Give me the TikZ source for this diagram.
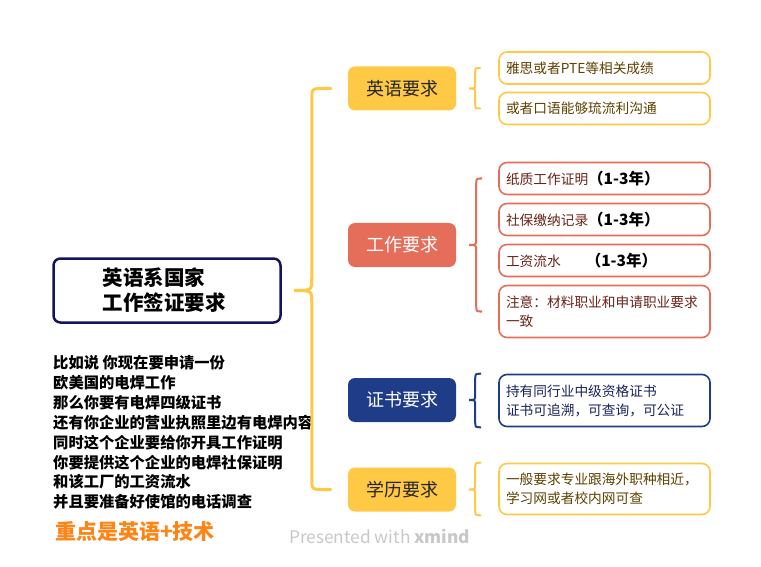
\documentclass[tikz,border=0pt]{standalone}
\usepackage{fontspec}
\setmainfont{Noto Sans CJK SC}
\usepackage{tikz}
\usetikzlibrary{positioning,calc}
\definecolor{sun}{RGB}{255,200,69}
\definecolor{coral}{RGB}{229,110,90}
\definecolor{royal}{RGB}{31,60,136}
\definecolor{ink}{RGB}{20,20,90}
\definecolor{sunink}{RGB}{95,65,0}
\definecolor{coralink}{RGB}{105,35,25}
\definecolor{royalink}{RGB}{25,35,90}
\definecolor{tangerine}{RGB}{255,132,22}
\definecolor{footgray}{RGB}{200,200,200}
\tikzset{
  rootbox/.style={draw=ink,line width=2.5pt,rounded corners=7pt,text width=129pt,inner xsep=49pt,minimum height=64pt,align=left,font=\fontsize{20.5}{25}\selectfont\bfseries},
  topic/.style={rounded corners=7pt,minimum width=108pt,minimum height=44pt,inner sep=0pt,font=\fontsize{18}{22}\selectfont},
  topicsun/.style={topic,fill=sun,text=black!85},
  topiccoral/.style={topic,fill=coral,text=white},
  topicroyal/.style={topic,fill=royal,text=white},
  leaf/.style={draw,line width=1.6pt,rounded corners=8pt,fill=white,text width=197pt,inner xsep=7pt,inner ysep=0pt,align=left,font=\fontsize{13.7}{19}\selectfont},
  leafsun/.style={leaf,draw=sun,text=sunink},
  leafcoral/.style={leaf,draw=coral,text=coralink},
  leafroyal/.style={leaf,draw=royal,text=royalink},
  bracket/.style={line width=2pt,line cap=round},
}
\newcommand{\yrs}{\textcolor{black}{\fontsize{15.5}{19}\selectfont\bfseries（1-3年）}}
% brace: style, top end, cusp, bottom end, offset of the spine, radius
\newcommand{\curly}[6]{%
  \draw[#1] let \p1=(#2), \p2=(#3), \p3=(#4) in
    (\p1) -- ({\x2+#5+#6},{\y1})
    .. controls ({\x2+#5},{\y1}) .. ({\x2+#5},{\y1-#6})
    -- ({\x2+#5},{\y2+#6})
    .. controls ({\x2+#5},{\y2}) .. (\p2)
    .. controls ({\x2+#5},{\y2}) .. ({\x2+#5},{\y2-#6})
    -- ({\x2+#5},{\y3+#6})
    .. controls ({\x2+#5},{\y3}) .. ({\x2+#5+#6},{\y3})
    -- (\p3);}

\begin{document}
\begin{tikzpicture}[x=1pt,y=-1pt]
  \useasboundingbox (0,0) rectangle (761,567);
  % central topic and notes
  \node[rootbox] (root) at (167,290.5) {英语系国家\\工作签证要求};
  \node[anchor=west,inner sep=0pt,align=left,font=\fontsize{15.3}{19.9}\selectfont\bfseries] (note) at (53,432.5)
    {比如说 你现在要申请一份\\欧美国的电焊工作\\那么你要有电焊四级证书\\还有你企业的营业执照里边有电焊内容\\同时这个企业要给你开具工作证明\\你要提供这个企业的电焊社保证明\\和该工厂的工资流水\\并且要准备好使馆的电话调查};
  \node[anchor=west,inner sep=0pt,text=tangerine,font=\fontsize{21}{25}\selectfont\bfseries] (key) at (55,532) {重点是英语+技术};
  \node[anchor=west,inner sep=0pt,text=footgray,font=\fontsize{17.3}{20}\selectfont] (credit) at (289,536) {Presented with \textbf{xmind}};
  % main topics
  \node[topicsun] (lang) at (402,88.5) {英语要求};
  \node[topiccoral] (work) at (402,245) {工作要求};
  \node[topicroyal] (cert) at (402,400) {证书要求};
  \node[topicsun] (edu) at (402,489.5) {学历要求};
  % details
  \node[leafsun,minimum height=32pt] (lang1) at (604.5,68) {雅思或者PTE等相关成绩};
  \node[leafsun,minimum height=32pt] (lang2) at (604.5,108.5) {或者口语能够琉流利沟通};
  \node[leafcoral,minimum height=32pt] (work1) at (604.5,178.5) {纸质工作证明\yrs};
  \node[leafcoral,minimum height=32pt] (work2) at (604.5,219.5) {社保缴纳记录\yrs};
  \node[leafcoral,minimum height=32pt] (work3) at (604.5,260.5) {工资流水\hspace{25pt}\yrs};
  \node[leafcoral,minimum height=52pt] (work4) at (604.5,311.5) {注意：材料职业和申请职业要求\\一致};
  \node[leafroyal,minimum height=52pt] (cert1) at (604.5,400.5) {持有同行业中级资格证书\\证书可追溯，可查询，可公证};
  \node[leafsun,minimum height=51pt] (edu1) at (604.5,489) {一般要求专业跟海外职种相近，\\学习网或者校内网可查};
  % braces
  \curly{bracket,draw=sun,line width=3pt}{$(lang.west)+(-17,0)$}{$(root.east)+(12,0)$}{$(edu.west)+(-17,0)$}{18}{12}
  \curly{bracket,draw=sun}{$(lang1.west)+(-18,0)$}{$(lang.east)+(13,0)$}{$(lang2.west)+(-18,0)$}{6}{5}
  \curly{bracket,draw=coral}{$(work1.west)+(-18,0)$}{$(work.east)+(13,0)$}{$(work4.west)+(-18,0)$}{7}{6}
  \curly{bracket,draw=royal}{$(cert1.north west)+(-18,0)$}{$(cert.east)+(13,0)$}{$(cert1.south west)+(-18,0)$}{6}{6}
  \curly{bracket,draw=sun}{$(edu1.north west)+(-18,0)$}{$(edu.east)+(13,0)$}{$(edu1.south west)+(-18,0)$}{6}{6}
\end{tikzpicture}
\end{document}
